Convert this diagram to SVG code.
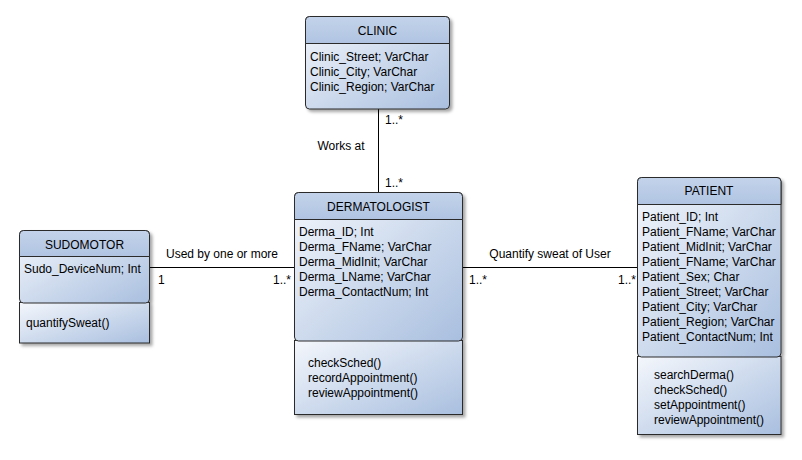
<svg xmlns="http://www.w3.org/2000/svg" width="802" height="460" viewBox="0 0 802 460">
<defs>
<linearGradient id="hdr" x1="0" y1="0" x2="0" y2="1">
<stop offset="0" stop-color="#c3d3ea"/>
<stop offset="1" stop-color="#b0c4e2"/>
</linearGradient>
<linearGradient id="body" x1="0" y1="0" x2="1" y2="1">
<stop offset="0" stop-color="#f4f7fc"/>
<stop offset="1" stop-color="#a9bfdf"/>
</linearGradient>
<filter id="sh" x="-10%" y="-10%" width="130%" height="130%">
<feDropShadow dx="2.5" dy="2.5" stdDeviation="1.5" flood-color="#000" flood-opacity="0.35"/>
</filter>
<style>
.bx{fill:url(#body);stroke:#2b2b2b;stroke-width:1}
.hd{fill:url(#hdr);stroke:#2b2b2b;stroke-width:1}
.dv{stroke:#2b2b2b;stroke-width:1}
text{font-family:"Liberation Sans",Arial,sans-serif;font-size:12px;fill:#000}
.t{text-anchor:middle}
.e{text-anchor:end}
.ln{stroke:#000;stroke-width:1;fill:none}
</style>
</defs>
<rect width="802" height="460" fill="#fff"/>

<g id="connectors">
<line class="ln" x1="378.5" y1="109" x2="378.5" y2="192"/>
<line class="ln" x1="149.5" y1="267.5" x2="294" y2="267.5"/>
<line class="ln" x1="462.5" y1="267.5" x2="637" y2="267.5"/>
<text x="385" y="124">1..*</text>
<text class="t" x="341" y="150">Works at</text>
<text x="385" y="187">1..*</text>
<text class="t" x="222" y="258">Used by one or more</text>
<text x="158" y="284">1</text>
<text class="e" x="291" y="284">1..*</text>
<text class="t" x="550" y="258">Quantify sweat of User</text>
<text x="469" y="284">1..*</text>
<text class="e" x="636" y="284">1..*</text>
</g>

<g id="clinic">
<g filter="url(#sh)">
<rect class="bx" x="305.5" y="16.5" width="144" height="92.5" rx="4"/>
</g>
<path class="hd" d="M305.5,43.5 V20.5 a4,4 0 0 1 4,-4 H445.5 a4,4 0 0 1 4,4 V43.5 Z"/>
<text class="t" x="377.5" y="35">CLINIC</text>
<text x="310" y="61">Clinic_Street; VarChar</text>
<text x="310" y="76">Clinic_City; VarChar</text>
<text x="310" y="91">Clinic_Region; VarChar</text>
</g>

<g id="sudomotor">
<g filter="url(#sh)">
<rect class="bx" x="19.5" y="302.5" width="130" height="40.5"/>
<rect class="bx" x="19.5" y="230.5" width="130" height="72.5" rx="4"/>
</g>
<path class="hd" d="M19.5,256.5 V234.5 a4,4 0 0 1 4,-4 H145.5 a4,4 0 0 1 4,4 V256.5 Z"/>
<text class="t" x="84.5" y="249">SUDOMOTOR</text>
<text x="24" y="273">Sudo_DeviceNum; Int</text>
<text x="26" y="327">quantifySweat()</text>
</g>

<g id="dermatologist">
<g filter="url(#sh)">
<rect class="bx" x="294.5" y="340.5" width="168" height="74"/>
<rect class="bx" x="294.5" y="192.5" width="168" height="148.5" rx="4"/>
</g>
<path class="hd" d="M294.5,219.5 V196.5 a4,4 0 0 1 4,-4 H458.5 a4,4 0 0 1 4,4 V219.5 Z"/>
<text class="t" x="378.5" y="211">DERMATOLOGIST</text>
<text x="299" y="236">Derma_ID; Int</text>
<text x="299" y="251">Derma_FName; VarChar</text>
<text x="299" y="266">Derma_MidInit; VarChar</text>
<text x="299" y="281">Derma_LName; VarChar</text>
<text x="299" y="296">Derma_ContactNum; Int</text>
<text x="308" y="367">checkSched()</text>
<text x="308" y="382">recordAppointment()</text>
<text x="308" y="397">reviewAppointment()</text>
</g>

<g id="patient">
<g filter="url(#sh)">
<rect class="bx" x="637.5" y="356.5" width="143.5" height="78"/>
<rect class="bx" x="637.5" y="177.5" width="143.5" height="179.5" rx="4"/>
</g>
<path class="hd" d="M637.5,204.5 V181.5 a4,4 0 0 1 4,-4 H777 a4,4 0 0 1 4,4 V204.5 Z"/>
<text class="t" x="709" y="195">PATIENT</text>
<text x="642" y="221">Patient_ID; Int</text>
<text x="642" y="236">Patient_FName; VarChar</text>
<text x="642" y="251">Patient_MidInit; VarChar</text>
<text x="642" y="266">Patient_FName; VarChar</text>
<text x="642" y="281">Patient_Sex; Char</text>
<text x="642" y="296">Patient_Street; VarChar</text>
<text x="642" y="311">Patient_City; VarChar</text>
<text x="642" y="326">Patient_Region; VarChar</text>
<text x="642" y="341">Patient_ContactNum; Int</text>
<text x="654" y="379">searchDerma()</text>
<text x="654" y="394">checkSched()</text>
<text x="654" y="409">setAppointment()</text>
<text x="654" y="424">reviewAppointment()</text>
</g>
</svg>
